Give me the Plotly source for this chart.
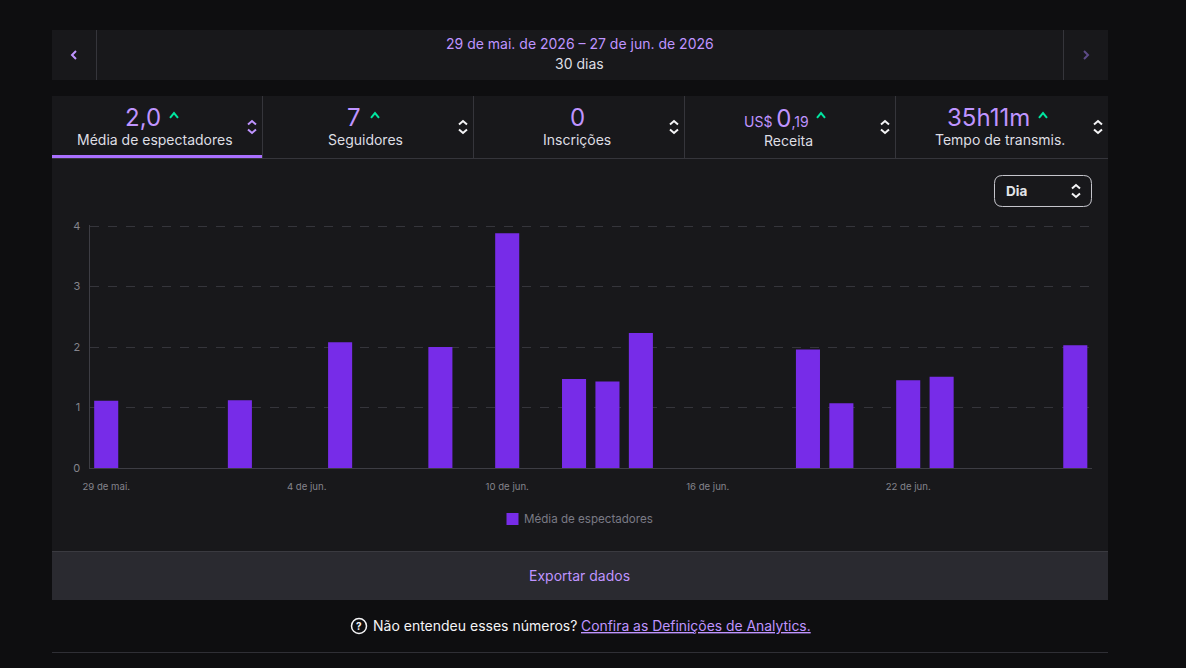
import plotly.graph_objects as go

W, H = 1186, 668

days = ["29 de mai.", "30 de mai.", "31 de mai.", "1 de jun.", "2 de jun.", "3 de jun.",
        "4 de jun.", "5 de jun.", "6 de jun.", "7 de jun.", "8 de jun.", "9 de jun.",
        "10 de jun.", "11 de jun.", "12 de jun.", "13 de jun.", "14 de jun.", "15 de jun.",
        "16 de jun.", "17 de jun.", "18 de jun.", "19 de jun.", "20 de jun.", "21 de jun.",
        "22 de jun.", "23 de jun.", "24 de jun.", "25 de jun.", "26 de jun.", "27 de jun."]
viewers = [1.11, 0, 0, 0, 1.12, 0, 0, 2.08, 0, 0, 2.0, 0, 3.88, 0, 1.47, 1.43, 2.23, 0,
           0, 0, 0, 1.96, 1.07, 0, 1.45, 1.51, 0, 0, 0, 2.03]
x_ticks = ["29 de mai.", "4 de jun.", "10 de jun.", "16 de jun.", "22 de jun."]
y_ticks = [0, 1, 2, 3, 4]

PAGE = "#0e0e10"
PANEL = "#18181b"
EXPORT = "#2a2a30"
LINE = "#35353b"
PURPLE = "#bf94ff"
BAR = "#772ce8"
GREEN = "#00e6a0"
LIGHT = "#dedee3"
WHITE = "#f4f4f6"
FONT = "Inter"


def px(x):
    return x / W


def py(y):
    return 1 - y / H


shapes = []


def rect(x0, y0, x1, y1, color):
    shapes.append(dict(type="rect", xref="paper", yref="paper", layer="below",
                       x0=px(x0), x1=px(x1), y0=py(y0), y1=py(y1),
                       fillcolor=color, line_width=0))


def line(x0, y0, x1, y1, color=LINE, width=1):
    shapes.append(dict(type="line", xref="paper", yref="paper", layer="below",
                       x0=px(x0), x1=px(x1), y0=py(y0), y1=py(y1),
                       line=dict(color=color, width=width)))


def polyline(points, color, width=2):
    path = "M" + " L".join(f"{px(x):.5f},{py(y):.5f}" for x, y in points)
    shapes.append(dict(type="path", xref="paper", yref="paper", path=path,
                       line=dict(color=color, width=width)))


def caret_up(x, y, color, s=4):
    polyline([(x - s, y + s * 0.7), (x, y - s * 0.5), (x + s, y + s * 0.7)], color)


def sorter(x, y, color):
    polyline([(x - 4, y - 2.5), (x, y - 6), (x + 4, y - 2.5)], color)
    polyline([(x - 4, y + 2.5), (x, y + 6), (x + 4, y + 2.5)], color)


annotations = []


def text(x, y, s, size=14, color=LIGHT, anchor="center"):
    annotations.append(dict(x=px(x), y=py(y), xref="paper", yref="paper", text=s,
                            showarrow=False, xanchor=anchor, yanchor="middle",
                            font=dict(family=FONT, size=size, color=color)))


# panels
rect(52, 30, 1108, 80, PANEL)
rect(52, 96, 1108, 600, PANEL)
rect(52, 552, 1108, 600, EXPORT)
line(52, 551.5, 1108, 551.5, "#3a3a40")
line(96.5, 30, 96.5, 80)
line(1063.5, 30, 1063.5, 80)
for sep in [262.5, 473.5, 684.5, 895.5]:
    line(sep, 96, sep, 158)
line(52, 158.5, 1108, 158.5)
rect(52, 155, 262, 158, "#a970ff")
line(52, 652.5, 1108, 652.5, "#2f2f35")

# date bar
polyline([(76, 51), (72, 55), (76, 59)], PURPLE)
polyline([(1084, 51), (1088, 55), (1084, 59)], "#5c4a86")
text(580, 44, "29 de mai. de 2026 – 27 de jun. de 2026", 14, PURPLE)
text(579, 64, "30 dias", 14, LIGHT)

# metric tabs
text(142.5, 117, "2,0", 24, PURPLE)
caret_up(174, 115, GREEN)
text(155, 139.5, "Média de espectadores", 14)
sorter(252, 127, PURPLE)

text(354, 117, "7", 24, PURPLE)
caret_up(375, 115, GREEN)
text(365.5, 139.5, "Seguidores", 14)
sorter(463, 127, WHITE)

text(577, 117, "0", 24, PURPLE)
text(577, 139.5, "Inscrições", 14)
sorter(674, 127, WHITE)

text(776, 118, '<span style="font-size:14px">US$ </span>0<span style="font-size:14px">,19</span>',
     24, PURPLE)
caret_up(821, 115, GREEN)
text(788, 140.5, "Receita", 14)
sorter(885, 127, WHITE)

text(988.5, 117, "35h11m", 24, PURPLE)
caret_up(1043, 115, GREEN)
text(1000, 139.5, "Tempo de transmis.", 14)
sorter(1098, 127, WHITE)

# select box
r = 8
x0, y0, x1, y1 = 994.5, 175.5, 1091.5, 206.5
shapes.append(dict(
    type="path", xref="paper", yref="paper", layer="below",
    path=(f"M{px(x0 + r):.5f},{py(y0):.5f} L{px(x1 - r):.5f},{py(y0):.5f} "
          f"Q{px(x1):.5f},{py(y0):.5f} {px(x1):.5f},{py(y0 + r):.5f} "
          f"L{px(x1):.5f},{py(y1 - r):.5f} "
          f"Q{px(x1):.5f},{py(y1):.5f} {px(x1 - r):.5f},{py(y1):.5f} "
          f"L{px(x0 + r):.5f},{py(y1):.5f} "
          f"Q{px(x0):.5f},{py(y1):.5f} {px(x0):.5f},{py(y1 - r):.5f} "
          f"L{px(x0):.5f},{py(y0 + r):.5f} "
          f"Q{px(x0):.5f},{py(y0):.5f} {px(x0 + r):.5f},{py(y0):.5f} Z"),
    line=dict(color="#c8c8cf", width=1)))
text(1003.5, 191, "<b>Dia</b>", 13.5, "#e4e4e8", "left")
sorter(1076, 191, WHITE)

# legend swatch and label
rect(506.5, 513, 518.5, 525, BAR)
text(522, 518.5, "Média de espectadores", 11.6, "#7a7a85", "left")

# bottom
text(579, 575.5, "Exportar dados", 14, PURPLE)
shapes.append(dict(type="circle", xref="paper", yref="paper",
                   x0=px(351.5), x1=px(366.5), y0=py(633.5), y1=py(618.5),
                   line=dict(color=WHITE, width=1.5)))
text(359, 626, "<b>?</b>", 10, WHITE)
text(371, 625.5, "Não entendeu esses números?", 14, WHITE, "left")
text(579, 625.5, "<u>Confira as Definições de Analytics.</u>", 13.9, PURPLE, "left")

fig = go.Figure()
fig.add_trace(go.Bar(x=days, y=viewers, name="Média de espectadores",
                     marker=dict(color=BAR, line=dict(width=0)), width=0.72))

fig.update_layout(
    width=W, height=H,
    margin=dict(l=0, r=0, t=0, b=0, autoexpand=False),
    paper_bgcolor=PAGE,
    plot_bgcolor="rgba(0,0,0,0)",
    font=dict(family=FONT, size=11, color="#84848c"),
    shapes=shapes,
    annotations=annotations,
    showlegend=False,
    xaxis=dict(domain=[px(89.5), px(1092)], type="category", categoryorder="array",
               categoryarray=days, tickmode="array", tickvals=x_ticks, ticktext=x_ticks,
               showgrid=False, zeroline=False, showline=True, linecolor="#3d3d44", linewidth=1,
               ticks="outside", ticklen=9, tickcolor="rgba(0,0,0,0)",
               tickfont=dict(size=9.6, color="#84848c"), tickangle=0),
    yaxis=dict(domain=[py(468), py(224.8)], range=[0, 4.02], tickmode="array", tickvals=y_ticks,
               showgrid=True, gridcolor="#35353b", griddash="dash", gridwidth=1,
               zeroline=False, showline=True, linecolor="#3d3d44", linewidth=1,
               ticks="outside", ticklen=6, tickcolor="rgba(0,0,0,0)",
               tickfont=dict(size=11, color="#84848c")),
)

fig.write_html("out.html", config=dict(displayModeBar=False),
               post_script="document.body.style.margin='0';document.body.style.overflow='hidden';")
